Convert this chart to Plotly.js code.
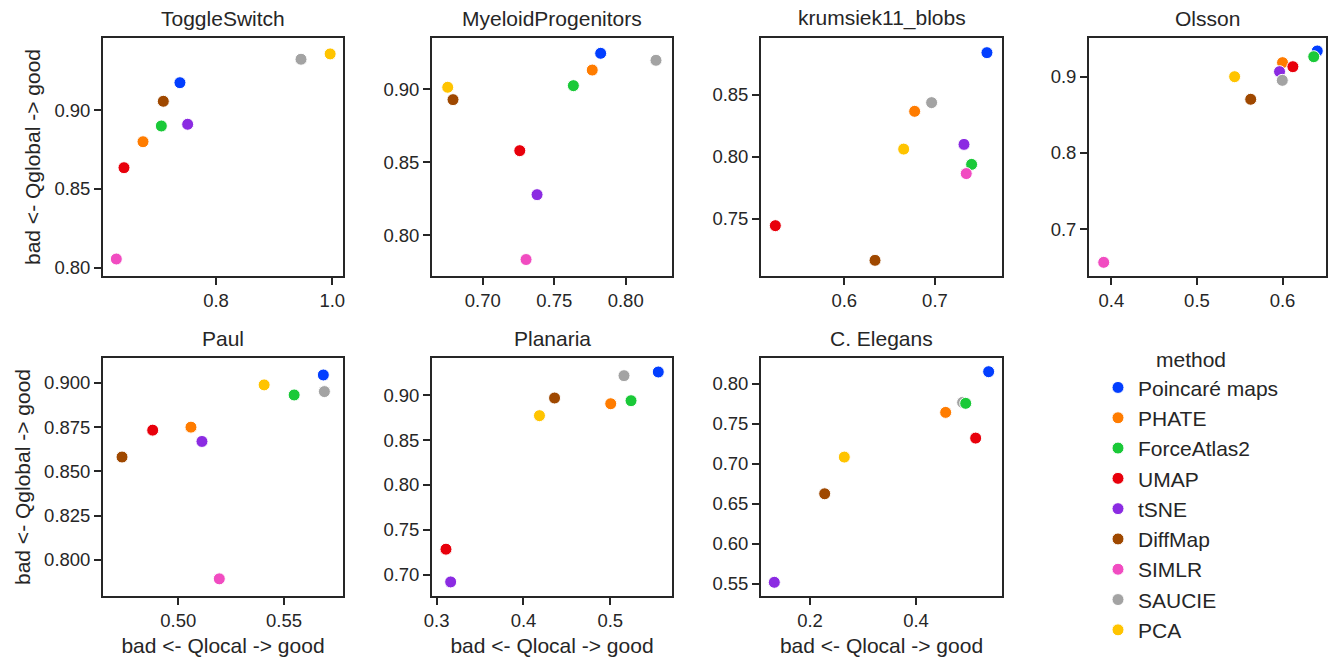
<!DOCTYPE html>
<html>
<head>
<meta charset="utf-8">
<script src="https://cdn.plot.ly/plotly-3.0.1.min.js"></script>
<style>
  html, body { margin: 0; padding: 0; background: #ffffff; overflow: hidden; }
  #chart { width: 1329px; height: 658px; }
</style>
</head>
<body>
<div id="chart"></div>
<script>
// Embedding methods, in the order they are listed in the legend
const methods = ['Poincaré maps', 'PHATE', 'ForceAtlas2', 'UMAP', 'tSNE', 'DiffMap', 'SIMLR', 'SAUCIE', 'PCA'];

// Qlocal (x) and Qglobal (y) per dataset, one value per method (null = not run)
const toggleSwitchLocal  = [0.738, 0.6745, 0.706, 0.6418, 0.7513, 0.7094, 0.6286, 0.9462, 0.9963];
const toggleSwitchGlobal = [0.9175, 0.880, 0.890, 0.8635, 0.8911, 0.9057, 0.8055, 0.9324, 0.9358];

const myeloidLocal  = [0.7825, 0.7766, 0.7634, 0.7259, 0.738, 0.6792, 0.7303, 0.8212, 0.6755];
const myeloidGlobal = [0.9247, 0.9132, 0.9025, 0.8579, 0.8277, 0.8929, 0.7832, 0.9199, 0.9014];

const krumsiekLocal  = [0.7573, 0.6776, 0.7404, 0.524, 0.732, 0.6339, 0.7345, 0.6963, 0.6655];
const krumsiekGlobal = [0.8838, 0.8366, 0.7939, 0.7446, 0.81, 0.7167, 0.7865, 0.8436, 0.8062];

const olssonLocal  = [0.6406, 0.600, 0.6365, 0.6121, 0.5965, 0.5628, 0.391, 0.5997, 0.544];
const olssonGlobal = [0.9337, 0.9184, 0.9262, 0.9131, 0.9066, 0.8704, 0.6567, 0.8952, 0.900];

const paulLocal  = [0.5686, 0.506, 0.5548, 0.4879, 0.5112, 0.4734, 0.5194, 0.5691, 0.5406];
const paulGlobal = [0.9045, 0.875, 0.8932, 0.8733, 0.8669, 0.8581, 0.7892, 0.8951, 0.8989];

const planariaLocal  = [0.5553, 0.5005, 0.5239, 0.3107, 0.3161, 0.4358, null, 0.5158, 0.4184];
const planariaGlobal = [0.926, 0.8906, 0.894, 0.7284, 0.6919, 0.897, null, 0.9219, 0.8773];

const elegansLocal  = [0.5371, 0.456, 0.4938, 0.5126, 0.1326, 0.2277, null, 0.488, 0.2647];
const elegansGlobal = [0.815, 0.7642, 0.7755, 0.7321, 0.5521, 0.6626, null, 0.7767, 0.7084];

// Palette ("bright"), one colour per method
const colors = ['#023eff', '#ff7c00', '#1ac938', '#e8000b', '#8b2be2', '#9f4800', '#f14cc1', '#a3a3a3', '#ffc400'];

const W = 1329, H = 658;
const ink = '#262626';
const font = 'Liberation Sans, Arial, sans-serif';

// Panel layout: pixel box, axis ranges, tick spacing and formats
const panels = [
  { title: 'ToggleSwitch', x: toggleSwitchLocal, y: toggleSwitchGlobal, box: [103, 343, 38, 276],
    xr: [0.6057, 1.0184], yr: [0.7947, 0.9459], dx: 0.2, dy: 0.05, fx: '.1f', fy: '.2f', ylab: true, xlab: false },
  { title: 'MyeloidProgenitors', x: myeloidLocal, y: myeloidGlobal, box: [432, 672, 38, 276],
    xr: [0.6645, 0.8324], yr: [0.7719, 0.9352], dx: 0.05, dy: 0.05, fx: '.2f', fy: '.2f', ylab: false, xlab: false },
  { title: 'krumsiek11_blobs', x: krumsiekLocal, y: krumsiekGlobal, box: [761, 1002, 38, 276],
    xr: [0.5082, 0.7739], yr: [0.7041, 0.8956], dx: 0.1, dy: 0.05, fx: '.1f', fy: '.2f', ylab: false, xlab: false },
  { title: 'Olsson', x: olssonLocal, y: olssonGlobal, box: [1089, 1326, 38, 276],
    xr: [0.3738, 0.6508], yr: [0.6388, 0.9507], dx: 0.1, dy: 0.1, fx: '.1f', fy: '.1f', ylab: false, xlab: false },
  { title: 'Paul', x: paulLocal, y: paulGlobal, box: [103, 343, 358, 596],
    xr: [0.4644, 0.5779], yr: [0.7795, 0.9141], dx: 0.05, dy: 0.025, fx: '.2f', fy: '.3f', ylab: true, xlab: true },
  { title: 'Planaria', x: planariaLocal, y: planariaGlobal, box: [432, 672, 358, 596],
    xr: [0.2946, 0.5711], yr: [0.6762, 0.9416], dx: 0.1, dy: 0.05, fx: '.1f', fy: '.2f', ylab: false, xlab: true },
  { title: 'C. Elegans', x: elegansLocal, y: elegansGlobal, box: [761, 1002, 358, 596],
    xr: [0.1075, 0.5623], yr: [0.535, 0.8321], dx: 0.2, dy: 0.05, fx: '.1f', fy: '.2f', ylab: false, xlab: true,
    order: [0, 1, 7, 2, 3, 4, 5, 6, 8] }
];

const traces = [];
const layout = {
  width: W, height: H,
  margin: { l: 0, r: 0, t: 0, b: 0, autoexpand: false },
  paper_bgcolor: '#ffffff', plot_bgcolor: '#ffffff',
  font: { family: font, color: ink, size: 18.5 },
  showlegend: true,
  legend: {
    x: 1098 / W, y: 1 - 340 / H, xanchor: 'left', yanchor: 'top',
    font: { family: font, size: 21, color: ink },
    title: { text: 'method', side: 'top center', font: { family: font, size: 21, color: ink } },
    tracegroupgap: 0, itemwidth: 30, bgcolor: 'rgba(0,0,0,0)'
  },
  annotations: []
};

panels.forEach((p, i) => {
  const n = i + 1;
  const sfx = n === 1 ? '' : String(n);
  const [l, r, t, b] = p.box;
  const order = p.order || methods.map((_, k) => k);
  order.forEach(k => {
    if (p.x[k] === null) return;
    traces.push({
      type: 'scatter', mode: 'markers',
      x: [p.x[k]], y: [p.y[k]],
      xaxis: 'x' + sfx, yaxis: 'y' + sfx,
      name: methods[k], legendgroup: methods[k], showlegend: n === 1,
      marker: { color: colors[k], size: 12, line: { color: '#ffffff', width: 1 } },
      hovertemplate: methods[k] + '<br>Qlocal %{x:.3f}<br>Qglobal %{y:.3f}<extra>' + p.title + '</extra>'
    });
  });
  const axisBase = {
    showgrid: false, zeroline: false, showline: true, mirror: true,
    linecolor: ink, linewidth: 1.8, ticks: 'outside', ticklen: 7, tickwidth: 1.5, tickcolor: ink,
    tickfont: { family: font, size: 18.5, color: ink }, automargin: false
  };
  layout['xaxis' + sfx] = Object.assign({}, axisBase, {
    domain: [l / W, r / W], range: p.xr, dtick: p.dx, tick0: 0, tickformat: p.fx,
    anchor: 'y' + sfx,
    title: p.xlab ? { text: 'bad <- Qlocal -> good', standoff: 8, font: { family: font, size: 21, color: ink } } : { text: '' }
  });
  layout['yaxis' + sfx] = Object.assign({}, axisBase, {
    domain: [1 - b / H, 1 - t / H], range: p.yr, dtick: p.dy, tick0: 0, tickformat: p.fy,
    anchor: 'x' + sfx,
    title: p.ylab ? { text: 'bad <- Qglobal -> good', standoff: 8, font: { family: font, size: 21, color: ink } } : { text: '' }
  });
  layout.annotations.push({
    text: p.title, xref: 'paper', yref: 'paper',
    x: (l + r) / 2 / W, y: 1 - (t - 6) / H, xanchor: 'center', yanchor: 'bottom',
    showarrow: false, font: { family: font, size: 21, color: ink }
  });
});

Plotly.newPlot('chart', traces, layout, { displayModeBar: false, responsive: false });
</script>
</body>
</html>
